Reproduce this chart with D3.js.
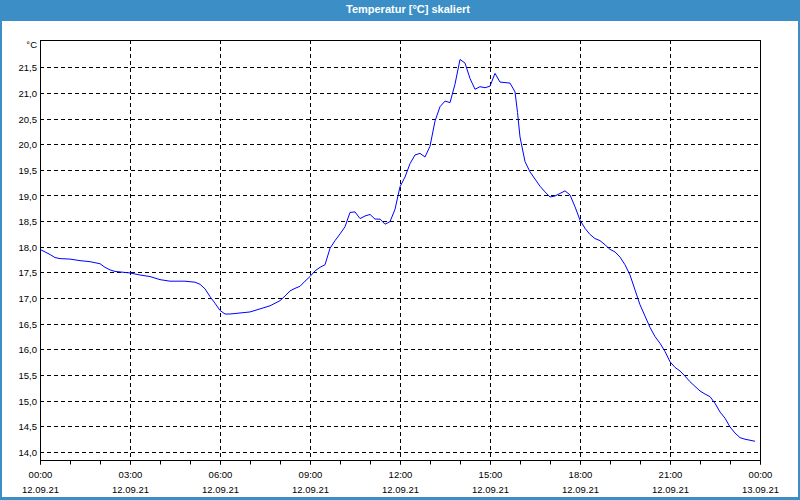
<!DOCTYPE html>
<html>
<head>
<meta charset="utf-8">
<script src="https://cdn.jsdelivr.net/npm/d3@7"></script>
<style>
  body { margin: 0; background: #fff; }
  svg { display: block; }
</style>
</head>
<body>
<main></main>
<script>
const width = 800;
const height = 500;
const margin = { top: 40, right: 40, bottom: 40, left: 40 };
const frameColor = '#3b8fc6';

// readings, 12.09.21
const times = ['00:00', '00:20', '00:30', '00:40', '01:00', '01:20', '01:40', '02:00', '02:10', '02:20',
  '02:30', '02:50', '03:00', '03:20', '03:40', '04:00', '04:20', '04:50', '05:10', '05:20',
  '05:30', '05:40', '05:50', '06:00', '06:10', '06:20', '06:40', '07:00', '07:20', '07:40',
  '08:00', '08:10', '08:20', '08:30', '08:40', '08:50', '09:00', '09:10', '09:20', '09:30',
  '09:40', '09:50', '10:00', '10:10', '10:20', '10:30', '10:40', '10:50', '11:00', '11:10',
  '11:20', '11:30', '11:40', '11:50', '12:00', '12:10', '12:20', '12:30', '12:40', '12:50',
  '13:00', '13:10', '13:20', '13:30', '13:40', '13:50', '14:00', '14:10', '14:20', '14:30',
  '14:40', '14:50', '15:00', '15:10', '15:20', '15:30', '15:40', '15:50', '15:55', '16:00',
  '16:10', '16:20', '16:30', '16:40', '16:50', '17:00', '17:10', '17:20', '17:30', '17:40',
  '17:50', '18:00', '18:10', '18:20', '18:30', '18:40', '18:50', '19:00', '19:10', '19:20',
  '19:30', '19:40', '19:50', '20:00', '20:10', '20:20', '20:30', '20:40', '20:50', '21:00',
  '21:10', '21:20', '21:30', '21:40', '21:50', '22:00', '22:10', '22:20', '22:30', '22:40',
  '22:50', '23:00', '23:10', '23:20', '23:30', '23:40', '23:50']
const temps = [17.95, 17.85, 17.79, 17.77, 17.76, 17.73, 17.71, 17.67, 17.60, 17.55,
  17.52, 17.50, 17.49, 17.45, 17.42, 17.36, 17.33, 17.33, 17.31, 17.27,
  17.18, 17.03, 16.90, 16.76, 16.69, 16.69, 16.71, 16.73, 16.79, 16.85,
  16.95, 17.04, 17.14, 17.19, 17.23, 17.33, 17.42, 17.53, 17.60, 17.65,
  17.97, 18.12, 18.25, 18.39, 18.67, 18.68, 18.55, 18.60, 18.63, 18.54,
  18.54, 18.44, 18.49, 18.73, 19.17, 19.36, 19.62, 19.79, 19.82, 19.75,
  19.96, 20.45, 20.73, 20.84, 20.81, 21.17, 21.65, 21.58, 21.28, 21.07,
  21.12, 21.10, 21.13, 21.38, 21.21, 21.20, 21.19, 21.02, 20.62, 20.14,
  19.66, 19.46, 19.32, 19.18, 19.07, 18.97, 18.99, 19.04, 19.09, 19.01,
  18.78, 18.52, 18.36, 18.24, 18.16, 18.12, 18.04, 17.95, 17.90, 17.80,
  17.65, 17.45, 17.16, 16.87, 16.65, 16.43, 16.25, 16.12, 15.96, 15.76,
  15.65, 15.58, 15.48, 15.37, 15.28, 15.19, 15.13, 15.08, 14.95, 14.78,
  14.66, 14.49, 14.37, 14.28, 14.25, 14.23, 14.21]

const yTicks = [14.0, 14.5, 15.0, 15.5, 16.0, 16.5, 17.0, 17.5, 18.0, 18.5, 19.0, 19.5, 20.0, 20.5, 21.0, 21.5]
const yDomain = [13.845, 22.03]
const xStart = new Date(2021, 8, 12, 0, 0)
const xEnd = new Date(2021, 8, 13, 0, 0)

const parseTime = t => {
  const parts = t.split(':')
  return new Date(2021, 8, 12, +parts[0], +parts[1])
}
const dataset = times.map((t, i) => ({ date: parseTime(t), value: temps[i] }))

const xScale = d3.scaleTime()
  .domain([xStart, xEnd])
  .range([margin.left, width - margin.right])

const yScale = d3.scaleLinear()
  .domain(yDomain)
  .range([height - margin.bottom, margin.top])

const crisp = v => Math.round(v) + 0.5
const fontFamily = '"Liberation Sans", Arial, sans-serif'

const svg = d3.select('main')
  .append('svg')
  .attr('width', width)
  .attr('height', height)

// Window frame
svg.append('rect')
  .attr('x', 0).attr('y', 0)
  .attr('width', width).attr('height', height)
  .attr('fill', frameColor)

svg.append('rect')
  .attr('x', 2).attr('y', 21)
  .attr('width', width - 4).attr('height', height - 24)
  .attr('fill', '#fff')

// Title
svg.append('text')
  .text('Temperatur [°C] skaliert')
  .attr('x', 408)
  .attr('y', 13)
  .attr('text-anchor', 'middle')
  .style('fill', '#fff')
  .style('font-size', '11px')
  .style('font-weight', 'bold')
  .style('font-family', fontFamily)

// Horizontal grid
svg.append('g')
  .selectAll('line')
  .data(yTicks)
  .enter()
  .append('line')
  .attr('x1', margin.left)
  .attr('x2', width - margin.right)
  .attr('y1', d => crisp(yScale(d)))
  .attr('y2', d => crisp(yScale(d)))
  .style('stroke', '#000')
  .style('stroke-dasharray', '4,3')
  .style('shape-rendering', 'crispEdges')

// Vertical grid (every 3 hours)
const majorTicks = d3.timeHour.every(3).range(xStart, xEnd).filter((d, i) => i > 0)
svg.append('g')
  .selectAll('line')
  .data(majorTicks)
  .enter()
  .append('line')
  .attr('x1', d => crisp(xScale(d)))
  .attr('x2', d => crisp(xScale(d)))
  .attr('y1', margin.top)
  .attr('y2', height - margin.bottom)
  .style('stroke', '#000')
  .style('stroke-dasharray', '4,3')
  .style('shape-rendering', 'crispEdges')

// Plot frame
svg.append('rect')
  .attr('x', margin.left + 0.5)
  .attr('y', margin.top + 0.5)
  .attr('width', width - margin.left - margin.right)
  .attr('height', height - margin.top - margin.bottom)
  .attr('fill', 'none')
  .style('stroke', '#000')
  .style('shape-rendering', 'crispEdges')

// x-axis: hourly minor ticks
const minorAxis = d3.axisBottom(xScale)
  .ticks(d3.timeHour.every(1))
  .tickSize(4)
  .tickFormat('')

svg.append('g')
  .attr('transform', `translate(0, ${height - margin.bottom + 0.5})`)
  .call(minorAxis)
  .call(g => g.select('.domain').remove())

// x-axis labels
const xAxis = d3.axisBottom(xScale)
  .ticks(d3.timeHour.every(3))
  .tickSize(4)
  .tickPadding(6)
  .tickFormat(d3.timeFormat('%H:%M'))

const xAxisG = svg.append('g')
  .attr('id', 'x-axis')
  .attr('transform', `translate(0, ${height - margin.bottom + 0.5})`)
  .call(xAxis)
  .call(g => g.select('.domain').remove())

xAxisG.selectAll('text')
  .style('font-size', '9.5px')
  .style('font-family', fontFamily)
  .attr('dy', null)
  .attr('y', 17)
  .each(function (d) {
    d3.select(this)
      .append('tspan')
      .attr('x', 0)
      .attr('y', 32)
      .text(d3.timeFormat('%d.%m.%y')(d))
  })

// y-axis labels
const yAxis = d3.axisLeft(yScale)
  .tickValues(yTicks)
  .tickSize(0)
  .tickPadding(3)
  .tickFormat(d => d.toFixed(1).replace('.', ','))

svg.append('g')
  .attr('id', 'y-axis')
  .attr('transform', `translate(${margin.left}, 0.5)`)
  .call(yAxis)
  .call(g => g.select('.domain').remove())
  .selectAll('text')
  .style('font-size', '9.5px')
  .style('font-family', fontFamily)

// Unit
svg.append('text')
  .text('°C')
  .attr('x', margin.left - 3)
  .attr('y', 48)
  .attr('text-anchor', 'end')
  .style('font-size', '9.5px')
  .style('font-family', fontFamily)

// Temperature line
const line = d3.line()
  .x(d => xScale(d.date))
  .y(d => yScale(d.value))

svg.append('path')
  .datum(dataset)
  .attr('d', line)
  .attr('fill', 'none')
  .style('stroke', '#0000ff')
  .style('stroke-width', '1px')
</script>
</body>
</html>
